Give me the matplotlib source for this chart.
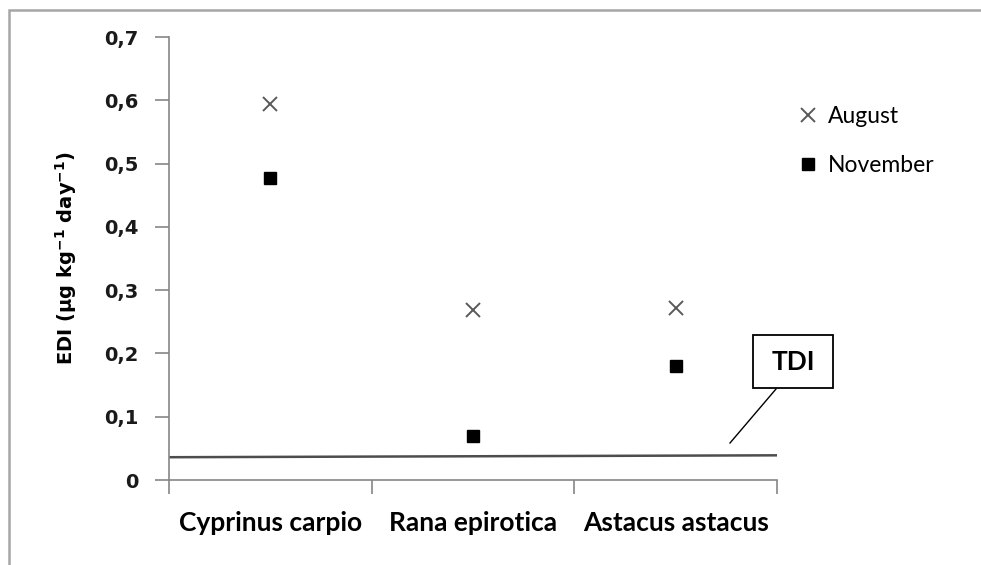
import matplotlib
matplotlib.use("Agg")
import matplotlib.pyplot as plt
from matplotlib.patches import Rectangle
from matplotlib.lines import Line2D
from matplotlib.ticker import FuncFormatter

categories = ["Cyprinus carpio", "Rana epirotica", "Astacus astacus"]
august = [0.594, 0.269, 0.272]
november = [0.477, 0.069, 0.180]
tdi_x = [0.5, 3.5]
tdi_y = [0.036, 0.039]
yticks = [0, 0.1, 0.2, 0.3, 0.4, 0.5, 0.6, 0.7]

W, H = 981, 565
fig = plt.figure(figsize=(W/100, H/100), dpi=100)
ax = fig.add_axes([169/W, 1-480/H, (777-169)/W, (480-37)/H])

# figure border (top and left visible)
fig.patches.append(Rectangle((9/W, -0.1), 1.2, 1.1 - 10/H,
                             transform=fig.transFigure, fill=False,
                             edgecolor="#a6a6a6", linewidth=1.8))

xpos = [1, 2, 3]
ax.plot(tdi_x, tdi_y, color="#4d4d4d", linewidth=1.8, zorder=2)
ax.plot(xpos, august, linestyle="none", marker="x", markersize=10,
        markeredgewidth=1.4, color="#595959", label="August", zorder=3)
ax.plot(xpos, november, linestyle="none", marker="s", markersize=9,
        color="black", label="November", zorder=3)

ax.set_xlim(0.5, 3.5)
ax.set_ylim(0, 0.7)
ax.set_yticks(yticks)
ax.yaxis.set_major_formatter(FuncFormatter(
    lambda v, p: "0" if v == 0 else f"{v:.1f}".replace(".", ",")))
ax.set_xticks([0.5, 1.5, 2.5, 3.5])
ax.set_xticklabels([])
ax.set_xticks(xpos, minor=True)
ax.set_xticklabels(categories, minor=True, fontsize=19, fontweight="bold",
                   family="Lato")
ax.tick_params(axis="x", which="minor", length=0, pad=22)
ax.tick_params(axis="x", which="major", length=10, direction="out",
               color="#868686", width=1.2)
ax.tick_params(axis="y", length=10, direction="out", color="#868686",
               width=1.2, pad=12, labelsize=14)
for lab in ax.get_yticklabels():
    lab.set_fontweight("bold")
    lab.set_color("#1a1a1a")

for s in ["top", "right"]:
    ax.spines[s].set_visible(False)
for s in ["left", "bottom"]:
    ax.spines[s].set_color("#868686")
    ax.spines[s].set_linewidth(1.2)

ax.set_ylabel(r"EDI (µg kg$^{\mathbf{-1}}$ day$^{\mathbf{-1}}$)", fontsize=14,
              fontweight="bold", labelpad=18)

# TDI callout box and leader line
fig.patches.append(Rectangle((753/W, 1-388/H), 80/W, 53/H,
                             transform=fig.transFigure, fill=True,
                             facecolor="white", edgecolor="black",
                             linewidth=1.3, zorder=5))
fig.text(793/W, 1-362/H, "TDI", ha="center", va="center", fontsize=19,
         fontweight="bold", family="Lato", zorder=6)
fig.lines.append(Line2D([776/W, 730/W], [1-389/H, 1-443/H],
                        transform=fig.transFigure, color="black",
                        linewidth=1.0, zorder=5))

leg = ax.legend(loc="upper left", bbox_to_anchor=(1.002, 0.89), frameon=False,
                handlelength=0.8, handletextpad=0.45,
                labelspacing=1.22, prop={"family": "Lato", "size": 16.5})

fig.savefig("out.png", dpi=100)
